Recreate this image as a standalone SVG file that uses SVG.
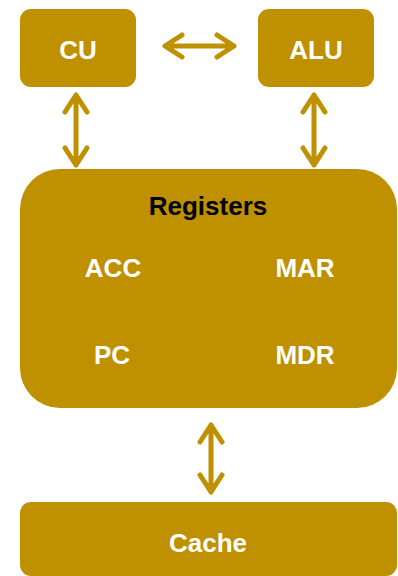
<svg xmlns="http://www.w3.org/2000/svg" width="398" height="576" viewBox="0 0 398 576">
<style>
.box{fill:#BF9000}
.lbl{font-family:"Liberation Sans",Arial,sans-serif;font-weight:bold;font-size:26px;fill:#FFFFFF;text-anchor:middle}
.ttl{font-family:"Liberation Sans",Arial,sans-serif;font-weight:bold;font-size:26px;fill:#000000;text-anchor:middle}
.arr{fill:none;stroke:#BF9000;stroke-width:5;stroke-linecap:round;stroke-linejoin:round}
</style>
<rect width="398" height="576" fill="#FFFFFF"/>
<g id="connectors">
<path class="arr" d="M165,46 H234 M182,35 L165,46 L182,57 M217,35 L234,46 L217,57"/>
<path class="arr" d="M76,95 V165 M65,112 L76,95 L87,112 M65,148 L76,165 L87,148"/>
<path class="arr" d="M314,95 V165 M303,112 L314,95 L325,112 M303,148 L314,165 L325,148"/>
<path class="arr" d="M211,425 V492 M200,442 L211,425 L222,442 M200,475 L211,492 L222,475"/>
</g>
<g id="cu">
<rect class="box" x="20" y="9" width="116" height="78" rx="11"/>
<text class="lbl" x="78" y="59">CU</text>
</g>
<g id="alu">
<rect class="box" x="258" y="9" width="116" height="78" rx="11"/>
<text class="lbl" x="316" y="59">ALU</text>
</g>
<g id="registers">
<rect class="box" x="20" y="169" width="377" height="239" rx="40"/>
<text class="ttl" x="208" y="215">Registers</text>
<text class="lbl" x="113" y="277">ACC</text>
<text class="lbl" x="305" y="277">MAR</text>
<text class="lbl" x="112" y="364">PC</text>
<text class="lbl" x="305" y="364">MDR</text>
</g>
<g id="cache">
<rect class="box" x="20" y="502" width="377" height="74" rx="11"/>
<text class="lbl" x="208" y="552">Cache</text>
</g>
</svg>
